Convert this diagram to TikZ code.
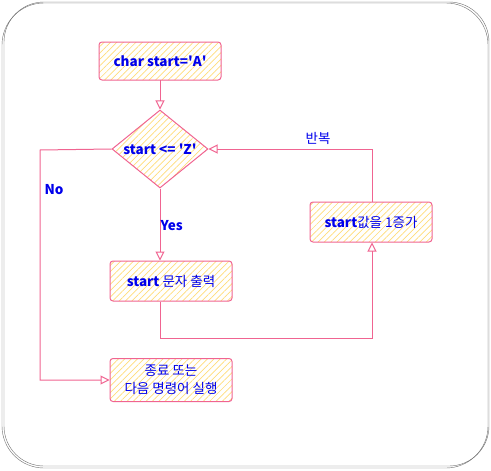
\documentclass[tikz,border=0pt]{standalone}
\usepackage{fontspec}
\setmainfont{Noto Sans CJK KR}
\usetikzlibrary{arrows.meta}
\usetikzlibrary{shapes.geometric}
\usetikzlibrary{patterns.meta}
\definecolor{pinkline}{RGB}{240,100,145}
\definecolor{hatch}{RGB}{255,220,120}
\definecolor{txtblue}{RGB}{0,0,235}
\definecolor{framegray}{RGB}{110,110,110}
\tikzset{
  box/.style={draw=pinkline, line width=1pt, rounded corners=3pt,
    pattern={Lines[angle=45,distance=4.5pt,line width=0.7pt]}, pattern color=hatch,
    text=txtblue, font=\fontsize{13.5}{17}\selectfont, align=center,
    minimum width=122pt, minimum height=40pt, inner sep=2pt},
  decision/.style={box, shape=diamond, rounded corners=0pt, aspect=1.23,
    minimum width=96pt, minimum height=78pt, inner sep=0pt},
  flow/.style={draw=pinkline, line width=1pt, -{Triangle[open,length=9pt,width=9pt]}},
  lbl/.style={text=txtblue, font=\fontsize{13.5}{16}\selectfont}
}
\begin{document}
\begin{tikzpicture}[x=1pt,y=-1pt]

\useasboundingbox (0,0) rectangle (491,471);
\draw[framegray,rounded corners=42pt] (2,3) rectangle (488,468);
\draw[framegray,rounded corners=40pt] (4,2) rectangle (489,466);

\node[box, minimum height=38pt] (init) at (160,61) {\textbf{char start=\textquotesingle A\textquotesingle}};
\node[decision] (cond) at (160,149) {\textbf{start <= \textquotesingle Z\textquotesingle}};
\node[box] (print) at (171,281) {\textbf{start} 문자 출력};
\node[box] (inc) at (371,222) {\textbf{start}값을 1증가};
\node[box, minimum height=43pt, inner sep=1pt, font=\fontsize{13.5}{18}\selectfont] (stop) at (171,380) {종료 또는\\다음 명령어 실행};

\coordinate (loop) at (372,338);
\coordinate (nobend) at (40,150);

\draw[flow] (init) -- (cond);
\draw[flow] (cond.south) -- (cond.south |- print.north);
\draw[flow] (cond.south |- print.south) -- (cond.south |- loop) -- (loop) -- (loop |- inc.south);
\draw[flow] (loop |- inc.north) |- (cond.east);
\draw[flow] (cond.west) -- (nobend) |- (stop.west);

\node[lbl, anchor=west] (yes) at (157,226) {\textbf{Yes}};
\node[lbl, anchor=west] (no) at (41,190) {\textbf{No}};
\node[lbl] (again) at (318,138) {반복};

\end{tikzpicture}
\end{document}
